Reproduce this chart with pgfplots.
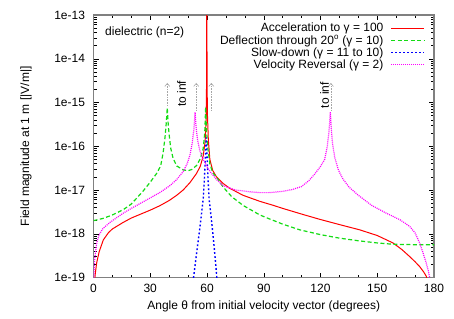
\documentclass[border=0pt]{standalone}
\usepackage{fontspec}
\setmainfont{Liberation Sans}
\usepackage{pgfplots}
\pgfplotsset{compat=1.18}
\usetikzlibrary{arrows.meta}
\definecolor{gred}{RGB}{255,0,0}
\definecolor{ggreen}{RGB}{20,220,20}
\definecolor{gblue}{RGB}{0,0,255}
\definecolor{gmag}{RGB}{255,0,255}
\begin{document}
\begin{tikzpicture}
\begin{axis}[
  scale only axis, width=340.5pt, height=262.5pt,
  at={(0,0)}, anchor=south west,
  font=\fontsize{12}{14.4}\selectfont,
  ymode=log, xmin=0, xmax=180, ymin=1e-19, ymax=1e-13,
  xtick={0,30,...,180}, minor x tick num=2,
  ytick={1e-19,1e-18,1e-17,1e-16,1e-15,1e-14,1e-13},
  yticklabels={1e-19,1e-18,1e-17,1e-16,1e-15,1e-14,1e-13},
  /pgf/number format/assume math mode=true,
  xticklabel style={yshift=-3pt},
  yticklabel style={xshift=-5pt},
  axis line style={draw=gray, line width=1.1pt},
  tick style={black, line width=0.5pt},
  major tick length=5pt, minor tick length=3pt,
  xlabel={Angle θ from initial velocity vector (degrees)},
  ylabel={Field magnitude at 1 m [|V/m|]},
  xlabel style={at={(axis description cs:0.5,-0.1086)}, anchor=center},
  ylabel style={at={(axis description cs:-0.198,0.5)}, anchor=center},
  legend plot pos=right,
  legend cell align=right,
  legend image code/.code={\draw[#1] plot coordinates {(0pt,0pt) (33pt,0pt)};},
  legend style={draw=none, fill=none, at={(axis description cs:1,1)}, anchor=north east,
    xshift=-9pt, yshift=-7pt, inner sep=0pt, row sep=0pt,
    nodes={inner sep=1pt}, /tikz/column sep=6pt,
    font=\fontsize{12}{14.4}\selectfont},
]
\addplot[gred, line width=1pt] coordinates {
(0.75,1.0e-19) (1,1.288e-19) (1.7,2.188e-19) (3,3.890e-19) (5.2,7.244e-19) (8,1.072e-18)
(10,1.288e-18) (15.7,1.820e-18) (20,2.291e-18) (25,2.818e-18) (30,3.467e-18) (35,4.365e-18)
(40,5.754e-18) (44,7.586e-18) (47.4,1e-17) (51,1.479e-17) (54.5,2.399e-17) (56.5,3.548e-17)
(58,6.026e-17) (59,1.259e-16) (59.5,3.981e-16) (59.8,3.162e-15) (59.88,1e-12) (59.94,1e-12)
(60.02,3.162e-15) (60.25,5.012e-16) (60.7,1.413e-16) (61.5,5.012e-17) (63,2.818e-17)
(65,1.995e-17) (68.5,1.413e-17) (72,1.096e-17) (79,7.586e-18) (88,5.495e-18) (95,4.467e-18)
(100,3.802e-18) (110,2.818e-18) (119.6,2.138e-18) (130,1.622e-18) (140.7,1.230e-18)
(150,9.120e-19) (158.3,6.166e-19) (163,4.365e-19) (167.1,3.020e-19) (170,2.291e-19)
(172.4,1.778e-19) (174.5,1.349e-19) (175.9,1.072e-19) (176.4,8.9e-20)
};
\addlegendentry{Acceleration to γ = 100}
\addplot[ggreen, line width=1.2pt, dash pattern=on 4pt off 2.5pt] coordinates {
(0,1.995e-18) (5,2.239e-18) (10,2.692e-18) (15.7,3.548e-18) (20,4.786e-18) (26.3,9.550e-18)
(30,1.514e-17) (33.4,2.399e-17) (35.5,3.548e-17) (36.8,7.079e-17) (37.8,1.585e-16)
(38.5,3.548e-16) (39.0,7.586e-16) (39.5,3.162e-16) (40.0,1.820e-16) (40.8,9.120e-17)
(42.1,5.248e-17) (44,3.548e-17) (47.4,2.884e-17) (50,2.754e-17) (52,2.951e-17)
(54.5,3.631e-17) (56.5,5.248e-17) (58,8.913e-17) (58.8,1.995e-16) (59.3,7.943e-16)
(59.7,2.512e-16) (60.3,1e-16) (61.5,3.981e-17) (63,2.512e-17) (65.9,1.738e-17)
(68.5,1.175e-17) (73,7.079e-18) (79,4.467e-18) (87.9,2.692e-18) (93,2.188e-18)
(100,1.660e-18) (109,1.230e-18) (120,9.550e-19) (130,7.943e-19) (140,6.918e-19)
(150,6.166e-19) (158.3,5.754e-19) (170,5.623e-19) (180,5.623e-19)
};
\addlegendentry{Deflection through 20\textsuperscript{o} (γ = 10)}
\addplot[gblue, line width=1.4pt, dash pattern=on 1.8pt off 2.2pt] coordinates {
(52.6,7.943e-20) (52.9,1e-19) (54,2.399e-19) (55,5.370e-19) (56.2,1.318e-18) (57.2,3.162e-18)
(58,6.310e-18) (58.7,1.995e-17) (59.2,6.310e-17) (59.6,1.585e-16) (60.0,6.310e-17)
(60.5,1.995e-17) (61.1,6.310e-18) (62,2.818e-18) (63,1.122e-18) (64,3.981e-19)
(65.2,1e-19) (65.4,7.943e-20)
};
\addlegendentry{Slow-down (γ = 11 to 10)}
\addplot[gmag, line width=1.2pt, dash pattern=on 1pt off 1pt] coordinates {
(0.1,7.943e-20) (0.3,1.413e-19) (0.7,2.818e-19) (1.7,6.166e-19) (3,9.550e-19) (5,1.318e-18)
(8.7,1.820e-18) (15.7,2.951e-18) (20,3.802e-18) (25,5.012e-18) (30,6.607e-18) (35,8.710e-18)
(40.4,1.259e-17) (44,1.738e-17) (47.4,2.630e-17) (49.5,3.981e-17) (51,6.310e-17)
(52.3,1.259e-16) (53.1,2.512e-16) (53.7,6.026e-16) (54.2,2.818e-16) (55,1.413e-16)
(56.2,7.943e-17) (58,5.012e-17) (59.8,3.548e-17) (62,2.512e-17) (65,1.738e-17)
(68.5,1.259e-17) (75,1e-17) (82.6,9.120e-18) (88,8.710e-18) (93,8.710e-18) (100,9.333e-18)
(105,1.023e-17) (110,1.202e-17) (114,1.660e-17) (117,2.344e-17) (120,3.467e-17)
(122.2,5.012e-17) (123.6,1e-16) (124.5,2.239e-16) (125.2,6.026e-16) (125.7,2.512e-16)
(126.4,1.122e-16) (127.5,5.623e-17) (129.5,2.818e-17) (131.9,1.778e-17) (135,1.175e-17)
(140,7.586e-18) (147,4.467e-18) (154.8,2.951e-18) (162,2.089e-18) (167.1,1.479e-18)
(170,1.047e-18) (172.4,6.166e-19) (174.3,3.548e-19) (175.9,2.138e-19) (177,1.413e-19)
(177.7,1e-19) (178,7.943e-20)
};
\addlegendentry{Velocity Reversal (γ = 2)}
\addplot[gray!70, line width=0.6pt, densely dotted, -{Straight Barb[length=3pt,width=5pt]}, forget plot] coordinates {(39.0,8.5e-16) (39.0,2.8e-15)};
\addplot[gray!70, line width=0.6pt, densely dotted, -{Straight Barb[length=3pt,width=5pt]}, forget plot] coordinates {(54.3,6.5e-16) (54.3,2.8e-15)};
\addplot[gray!70, line width=0.6pt, densely dotted, -{Straight Barb[length=3pt,width=5pt]}, forget plot] coordinates {(62.3,6.5e-16) (62.3,2.8e-15)};
\addplot[gray!70, line width=0.6pt, densely dotted, -{Straight Barb[length=3pt,width=5pt]}, forget plot] coordinates {(125.5,6.5e-16) (125.5,2.8e-15)};
\node[rotate=90, anchor=center] at (axis cs:46.5,1.585e-15) {to inf};
\node[rotate=90, anchor=center] at (axis cs:122.2,1.48e-15) {to inf};
\node[anchor=west] at (axis cs:4.3,3.98e-14) {dielectric (n=2)};
\end{axis}
\path[use as bounding box] (-93.5pt,-40.5pt) rectangle (360.5pt,277.5pt);
\end{tikzpicture}
\end{document}
